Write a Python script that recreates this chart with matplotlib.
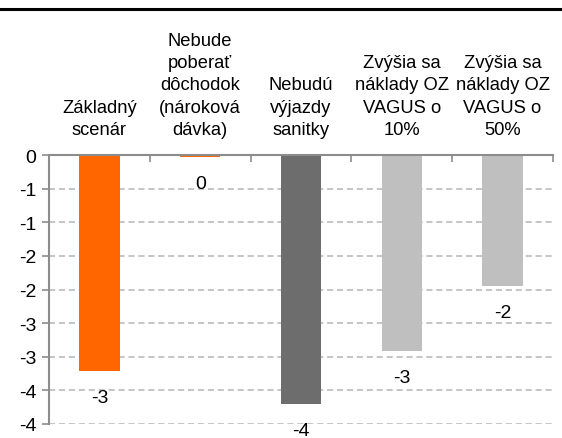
import numpy as np
import matplotlib.pyplot as plt
from matplotlib.lines import Line2D
from matplotlib.ticker import FixedLocator

# data
categories = ["Základný\nscenár",
              "Nebude\npoberať\ndôchodok\n(nároková\ndávka)",
              "Nebudú\nvýjazdy\nsanitky",
              "Zvýšia sa\nnáklady OZ\nVAGUS o\n10%",
              "Zvýšia sa\nnáklady OZ\nVAGUS o\n50%"]
values = [-3.21, -0.03, -3.70, -2.92, -1.95]
colors = ["#FF6600", "#FF6600", "#6D6D6D", "#BFBFBF", "#BFBFBF"]
y_ticks = [0, -0.5, -1, -1.5, -2, -2.5, -3, -3.5, -4]


def excel_round(v):
    # Excel "0" format rounds half away from zero
    r = int(np.sign(v) * np.floor(abs(v) + 0.5))
    return str(r) if r != 0 else "0"


plt.rcParams['font.family'] = ['Liberation Sans', 'DejaVu Sans']
axis_grey = "#8C8C8C"

fig = plt.figure(figsize=(5.62, 4.39), dpi=100)
ax = fig.add_axes([0.0872, 0.0319, 0.984 - 0.0872, 0.6446 - 0.0319])

x = np.arange(len(categories))
ax.bar(x, values, width=0.4, color=colors, zorder=3)

ax.set_xlim(-0.5, len(categories) - 0.5)
ax.set_ylim(-4, 0)

# y axis with rounded labels
ax.set_yticks(y_ticks)
ax.set_yticklabels([excel_round(v) for v in y_ticks])
ax.tick_params(axis='y', direction='out', length=5, width=1.2, color=axis_grey,
               labelsize=14, pad=4)
for t in y_ticks[1:]:
    ax.axhline(t, color="#B5B5B5", linestyle=(0, (4, 2.5)), linewidth=1.1, zorder=1)

# category labels on top of the zero line
ax.xaxis.tick_top()
ax.set_xticks(x)
ax.set_xticklabels(categories, fontsize=13.2, linespacing=1.42)
ax.tick_params(axis='x', which='major', length=0, pad=12)
ax.xaxis.set_minor_locator(FixedLocator(np.arange(0.5, len(categories), 1.0)))
ax.tick_params(axis='x', which='minor', direction='in', length=5, width=1.2,
               color=axis_grey, top=True, bottom=False)

for side in ["bottom", "right"]:
    ax.spines[side].set_visible(False)
for side in ["top", "left"]:
    ax.spines[side].set_color(axis_grey)
    ax.spines[side].set_linewidth(1.5)
    ax.spines[side].set_zorder(4)

# value labels under the bars
for xi, v in zip(x, values):
    ax.annotate(excel_round(v), (xi, v),
                xytext=(0, -19), textcoords="offset points",
                ha="center", va="center", fontsize=14)

fig.add_artist(Line2D([0, 1], [1 - 10 / 439, 1 - 10 / 439], color="black",
                      linewidth=2.2, transform=fig.transFigure))

fig.savefig("out.png", dpi=100)
